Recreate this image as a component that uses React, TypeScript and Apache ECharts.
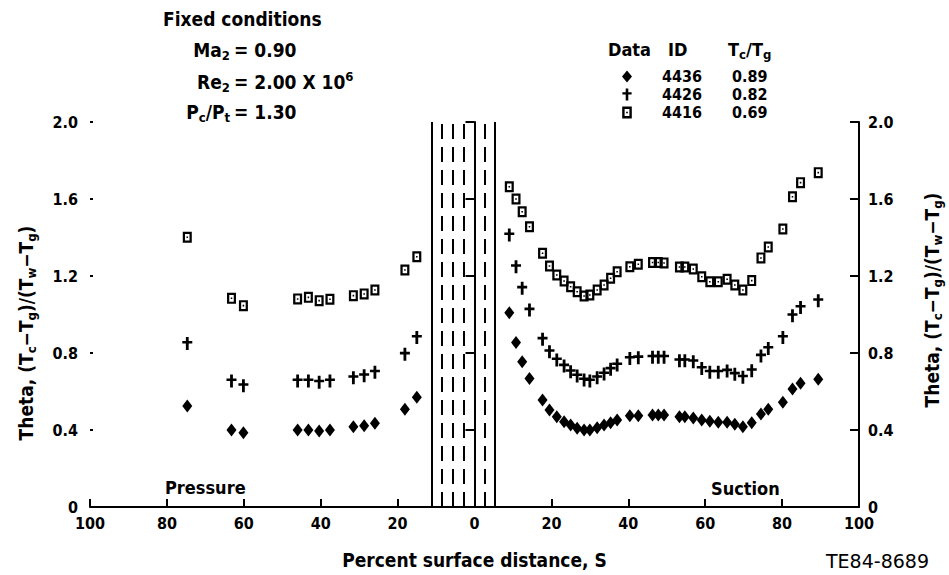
import React, { useEffect, useRef } from "react";
import * as echarts from "echarts";

// Percent surface distance: pressure side drawn as negative, suction side positive
const pressurePositions = [-74.7, -63.2, -60.1, -46.0, -43.2, -40.4, -37.6, -31.5, -28.7, -25.9, -18.1, -15.0];
const suctionPositions = [
  9.05, 10.8, 12.4, 14.3, 17.7, 19.5, 21.4, 23.3, 25.0, 26.7, 28.5, 30.0, 31.9, 33.7, 35.4, 37.1,
  40.4, 42.6, 46.3, 47.8, 49.3, 53.3, 54.7, 56.9, 59.1, 61.2, 63.4, 65.7, 67.7, 69.8, 72.1, 74.5,
  76.4, 80.2, 82.7, 84.8, 89.4,
];

// Theta values, data ID 4436 (Tc/Tg 0.89)
const theta4436Pressure = [0.525, 0.4, 0.386, 0.4, 0.4, 0.395, 0.4, 0.417, 0.422, 0.435, 0.508, 0.57];
const theta4436Suction = [
  1.009, 0.854, 0.755, 0.668, 0.556, 0.504, 0.469, 0.443, 0.426, 0.409, 0.4, 0.4, 0.412, 0.426, 0.438, 0.452,
  0.474, 0.474, 0.478, 0.478, 0.478, 0.469, 0.469, 0.462, 0.452, 0.445, 0.44, 0.44, 0.43, 0.417, 0.438, 0.483,
  0.508, 0.544, 0.613, 0.643, 0.663,
];

// Theta values, data ID 4426 (Tc/Tg 0.82)
const theta4426Pressure = [0.85, 0.655, 0.63, 0.655, 0.655, 0.648, 0.655, 0.672, 0.682, 0.7, 0.793, 0.881];
const theta4426Suction = [
  1.413, 1.248, 1.136, 1.023, 0.871, 0.807, 0.764, 0.732, 0.703, 0.681, 0.66, 0.655, 0.672, 0.691, 0.715, 0.738,
  0.772, 0.775, 0.778, 0.778, 0.778, 0.76, 0.76, 0.755, 0.72, 0.7, 0.7, 0.706, 0.689, 0.674, 0.708, 0.784,
  0.824, 0.881, 0.994, 1.037, 1.072,
];

// Theta values, data ID 4416 (Tc/Tg 0.69)
const theta4416Pressure = [1.401, 1.084, 1.046, 1.081, 1.089, 1.072, 1.079, 1.098, 1.107, 1.127, 1.231, 1.3];
const theta4416Suction = [
  1.664, 1.6, 1.534, 1.456, 1.318, 1.252, 1.205, 1.174, 1.144, 1.118, 1.096, 1.101, 1.127, 1.153, 1.188, 1.222,
  1.248, 1.261, 1.27, 1.27, 1.268, 1.247, 1.247, 1.236, 1.196, 1.17, 1.17, 1.183, 1.153, 1.127, 1.176, 1.294,
  1.351, 1.444, 1.612, 1.685, 1.737,
];

const dataIds = ["4436", "4426", "4416"];
const tcTgRatios = ["0.89", "0.82", "0.69"];

// Vertical lines around the leading edge region
const passageLines = [-11.1, -8.4, -5.6, -2.7, 0.1, 2.7, 5.3];
const passageLineTypes = ["solid", "dashed", "dashed", "dashed", "dashed", "dashed", "solid"];

const FONT = '"DejaVu Sans Condensed", "DejaVu Sans", sans-serif';
const FONT_WIDE = '"DejaVu Sans", sans-serif';

const SYM_DIAMOND = "diamond";
const SYM_PLUS = "path://M3.6,0H6.4V4H10V6.6H6.4V13H3.6V6.6H0V4H3.6Z";
const SYM_SQUARE = "path://M0,0H8V10H0Z M2,2V8H6V2Z M3.3,4.3H4.7V5.7H3.3Z";

const subStyle = { fontSize: 13, fontFamily: FONT, fontWeight: "bold", padding: [11, 0, 0, 0], fill: "#000", color: "#000" };
const supStyle = { fontSize: 13, fontFamily: FONT, fontWeight: "bold", padding: [0, 0, 11, 0], fill: "#000", color: "#000" };

function pairs(xs: number[], ys: number[]) {
  return xs.map((x, i) => [x, ys[i]]);
}

function txt(x: number, y: number, text: string, align = "left", size = 19, weight = "bold", family = FONT, rotation = 0) {
  return {
    type: "text",
    x,
    y,
    rotation,
    style: {
      text,
      fill: "#000",
      fontSize: size,
      fontFamily: family,
      fontWeight: weight,
      align,
      verticalAlign: "middle",
      rich: { s: subStyle, p: supStyle },
    },
  };
}

export default function App() {
  const ref = useRef<HTMLDivElement>(null);
  useEffect(() => {
    document.body.style.margin = "0";
    const chart = echarts.init(ref.current!, null, { renderer: "svg" });
    const yName = "Theta, (T{s|c}\u2212T{s|g})/(T{s|w}\u2212T{s|g})";
    const axisText = { fontSize: 16, fontFamily: FONT, fontWeight: "bold", color: "#000" };
    const yAxisCommon = {
      type: "value",
      min: 0,
      max: 2,
      interval: 0.4,
      splitLine: { show: false },
      axisLine: { show: true, lineStyle: { color: "#000", width: 2 } },
      axisLabel: { ...axisText, formatter: (v: number) => (v === 0 ? "0" : v.toFixed(1)) },
    };
    const seriesSymbols = [SYM_DIAMOND, SYM_PLUS, SYM_SQUARE];
    const seriesSizes = [[10, 13], [10, 13], [9, 11]];
    const seriesData = [
      pairs(pressurePositions, theta4436Pressure).concat(pairs(suctionPositions, theta4436Suction)),
      pairs(pressurePositions, theta4426Pressure).concat(pairs(suctionPositions, theta4426Suction)),
      pairs(pressurePositions, theta4416Pressure).concat(pairs(suctionPositions, theta4416Suction)),
    ];
    const series: any[] = dataIds.map((id, i) => ({
      type: "scatter",
      name: id,
      data: seriesData[i],
      symbol: seriesSymbols[i],
      symbolSize: seriesSizes[i],
      itemStyle: { color: "#000", opacity: 1 },
      z: 3,
    }));
    series[0].markLine = {
      silent: true,
      symbol: ["none", "none"],
      label: { show: false },
      lineStyle: { color: "#000", width: 2 },
      data: passageLines.map((v, i) => ({
        xAxis: v,
        lineStyle: { color: "#000", width: 2, type: passageLineTypes[i] === "solid" ? "solid" : [15, 8] },
      })),
    };

    chart.setOption({
      animation: false,
      backgroundColor: "#fff",
      grid: { left: 90, right: 90, top: 122, bottom: 68 },
      xAxis: {
        type: "value",
        min: -100,
        max: 100,
        interval: 20,
        splitLine: { show: false },
        axisLine: { lineStyle: { color: "#000", width: 2 } },
        axisTick: { inside: true, length: 8, lineStyle: { color: "#000", width: 2 } },
        axisLabel: { ...axisText, margin: 8, formatter: (v: number) => String(Math.abs(v)) },
        name: "Percent surface distance, S",
        nameLocation: "middle",
        nameGap: 43,
        nameTextStyle: { fontSize: 19, fontFamily: FONT, fontWeight: "bold", color: "#000" },
      },
      yAxis: [
        {
          ...yAxisCommon,
          position: "left",
          axisTick: { show: true, inside: false, length: 9, lineStyle: { color: "#000", width: 2 } },
          axisLabel: { ...yAxisCommon.axisLabel, margin: 12 },
        },
        {
          ...yAxisCommon,
          position: "right",
          axisTick: { show: true, inside: true, length: 9, lineStyle: { color: "#000", width: 2 } },
          axisLabel: { ...yAxisCommon.axisLabel, margin: 9 },
        },
        {
          ...yAxisCommon,
          position: "left",
          axisLine: { show: false },
          axisLabel: { show: false },
          axisTick: { show: true, inside: true, length: 3, lineStyle: { color: "#000", width: 2 } },
        },
      ],
      legend: {
        orient: "vertical",
        left: 622,
        top: 68,
        padding: 0,
        itemWidth: 10,
        itemHeight: 12,
        itemGap: 1,
        selectedMode: false,
        data: dataIds.map((id, i) => ({ name: id, icon: seriesSymbols[i] })),
        itemStyle: { color: "#000" },
        formatter: (name: string) => `{g|}{id|${name}}{r|${tcTgRatios[dataIds.indexOf(name)]}}`,
        textStyle: {
          fontSize: 16,
          fontFamily: FONT,
          fontWeight: "bold",
          color: "#000",
          lineHeight: 17,
          rich: {
            g: { width: 25, lineHeight: 17 },
            id: { width: 70, fontSize: 16, fontFamily: FONT, fontWeight: "bold", lineHeight: 17 },
            r: { fontSize: 16, fontFamily: FONT, fontWeight: "bold", lineHeight: 17 },
          },
        },
      },
      graphic: [
        txt(163, 19, "Fixed conditions"),
        txt(230, 50, "Ma{s|2}", "right"),
        txt(234, 50, "= 0.90"),
        txt(230, 82, "Re{s|2}", "right"),
        txt(234, 82, "= 2.00 X 10{p|6}"),
        txt(230, 112, "P{s|c}/P{s|t}", "right"),
        txt(234, 112, "= 1.30"),
        txt(608, 49, "Data", "left", 18),
        txt(668, 49, "ID", "left", 18),
        txt(728, 49, "T{s|c}/T{s|g}", "left", 18),
        txt(165, 487, "Pressure", "left", 18),
        txt(711, 488, "Suction", "left", 18),
        txt(826, 561, "TE84-8689", "left", 19, "normal", FONT_WIDE),
        txt(26, 333, yName, "center", 19, "bold", FONT, Math.PI / 2),
        txt(932, 300, yName, "center", 19, "bold", FONT, Math.PI / 2),
      ],
      series,
    });
    return () => chart.dispose();
  }, []);
  return <div ref={ref} style={{ width: 949, height: 575 }} />;
}
